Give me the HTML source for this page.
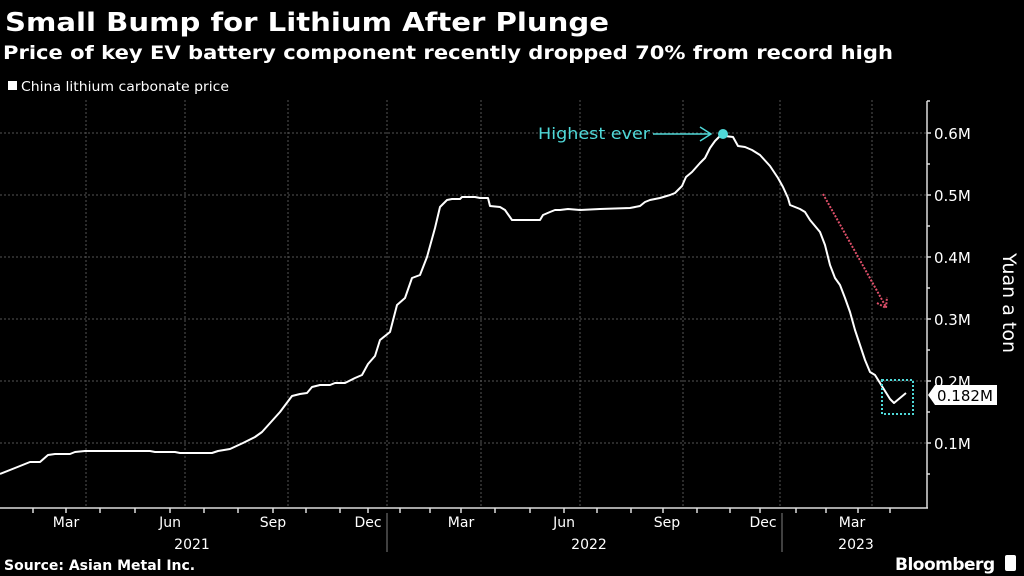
<!DOCTYPE html>
<html><head><meta charset="utf-8"><style>
html,body{margin:0;padding:0;background:#000;width:1024px;height:576px;overflow:hidden}
svg{display:block}
text{font-family:"DejaVu Sans","Liberation Sans",sans-serif}
</style></head><body>
<svg width="1024" height="576" viewBox="0 0 1024 576">
<rect width="1024" height="576" fill="#000"/>
<text x="5" y="31" fill="#fff" font-size="26" font-weight="bold" textLength="604" lengthAdjust="spacingAndGlyphs">Small Bump for Lithium After Plunge</text>
<text x="3" y="59" fill="#fff" font-size="19" font-weight="bold" textLength="890" lengthAdjust="spacingAndGlyphs">Price of key EV battery component recently dropped 70% from record high</text>
<rect x="8" y="81" width="9" height="9" fill="#fff"/>
<text x="21" y="91" fill="#fff" font-size="13" textLength="208" lengthAdjust="spacingAndGlyphs">China lithium carbonate price</text>
<g stroke="#555" stroke-width="1" stroke-dasharray="2,2">
<line x1="0" y1="133" x2="927" y2="133"/><line x1="0" y1="195" x2="927" y2="195"/>
<line x1="0" y1="257" x2="927" y2="257"/><line x1="0" y1="319" x2="927" y2="319"/>
<line x1="0" y1="381" x2="927" y2="381"/><line x1="0" y1="443" x2="927" y2="443"/>
<line x1="86" y1="100" x2="86" y2="508"/><line x1="185" y1="100" x2="185" y2="508"/>
<line x1="288" y1="100" x2="288" y2="508"/><line x1="387" y1="100" x2="387" y2="508"/>
<line x1="481" y1="100" x2="481" y2="508"/><line x1="580" y1="100" x2="580" y2="508"/>
<line x1="683" y1="100" x2="683" y2="508"/><line x1="780" y1="100" x2="780" y2="508"/>
<line x1="872" y1="100" x2="872" y2="508"/>
</g>
<g stroke="#ddd" stroke-width="1.5" fill="none">
<line x1="0" y1="508" x2="928" y2="508"/>
<line x1="927" y1="101" x2="927" y2="508"/>
<path d="M927 101h3M927 133h4M927 164h3M927 195h4M927 226h3M927 257h4M927 288h3M927 319h4M927 350h3M927 381h4M927 412h3M927 443h4M927 474h3"/>
<path d="M33 508v5M66 508v5M100 508v5M135 508v5M170 508v5M204 508v5M238 508v5M273 508v5M306 508v5M340 508v5M368 508v5M400 508v5M430 508v5M461 508v5M495 508v5M530 508v5M564 508v5M597 508v5M631 508v5M663 508v5M697 508v5M730 508v5M760 508v5M796 508v5M826 508v5M858 508v5M890 508v5"/>
<line x1="387" y1="513" x2="387" y2="552" stroke="#555"/>
<line x1="782" y1="513" x2="782" y2="552" stroke="#555"/>
</g>
<g fill="#fff" font-size="14" text-anchor="middle">
<text x="66" y="527">Mar</text><text x="170" y="527">Jun</text><text x="273" y="527">Sep</text><text x="368" y="527">Dec</text>
<text x="461" y="527">Mar</text><text x="564" y="527">Jun</text><text x="667" y="527">Sep</text><text x="763" y="527">Dec</text><text x="852" y="527">Mar</text>
<text x="192" y="549">2021</text><text x="589" y="549">2022</text><text x="856" y="549">2023</text>
</g>
<g fill="#fff" font-size="15">
<text x="934" y="139">0.6M</text><text x="934" y="201">0.5M</text><text x="934" y="263">0.4M</text>
<text x="934" y="325">0.3M</text><text x="934" y="387">0.2M</text><text x="934" y="449">0.1M</text>
</g>
<text transform="translate(1003,303) rotate(90)" fill="#fff" font-size="19" text-anchor="middle">Yuan a ton</text>
<path fill="none" stroke="#fff" stroke-width="2" stroke-linejoin="round" d="M0 474L15 468L30 462L40 462L48 455L55 454L70 454L75 452L85 451L150 451L155 452L175 452L180 453L212 453L218 451L230 449L243 443L255 437L262 432L280 412L292 396L300 394L307 393L312 387L320 385L330 385L335 383L345 383L355 378L362 375L368 364L375 356L380 340L390 332L397 305L405 298L412 278L420 275L427 257L435 228L440 207L447 200L452 199L460 199L462 197L475 197L480 198L488 198L490 206L500 207L505 210L512 220L540 220L543 215L550 212L555 210L560 210L568 209L580 210L600 209L630 208L640 206L645 202L650 200L660 198L670 195L675 193L678 190L682 186L686 177L692 172L700 163L705 158L710 148L715 141L720 136L725 136L733 137L738 146L745 147L752 150L760 155L770 166L778 178L783 187L788 198L790 205L795 207L800 209L805 212L810 220L815 226L820 232L825 245L830 265L835 278L840 285L845 298L850 312L855 330L860 345L865 360L870 372L875 375L880 383L885 391L890 399L894 403L900 398L906 393"/>
<circle cx="723" cy="134" r="5" fill="#4fd8d8"/>
<text x="538" y="139" fill="#4fd8d8" font-size="16" textLength="112" lengthAdjust="spacingAndGlyphs">Highest ever</text>
<g stroke="#4fd8d8" stroke-width="1.5" fill="none">
<line x1="653" y1="134" x2="711" y2="134"/><path d="M700 127L711 134L700 141"/>
<rect x="882" y="380" width="31" height="34" stroke-dasharray="2,2" stroke-width="2"/>
</g>
<g stroke="#e0506a" stroke-width="2" stroke-dasharray="2,1.5" fill="none">
<line x1="823" y1="194" x2="886" y2="307"/><path d="M877 303L886 308L887 297"/>
</g>
<path d="M928 395L935 385H997V405H935Z" fill="#fff"/>
<text x="937" y="401" fill="#000" font-size="15">0.182M</text>
<text x="4" y="570" fill="#fff" font-size="14" font-weight="bold">Source: Asian Metal Inc.</text>
<text x="895" y="570" fill="#fff" font-size="17" font-weight="bold" letter-spacing="-0.5">Bloomberg</text>
<rect x="1005" y="555" width="11" height="16" rx="2" fill="#fff"/>
</svg>
</body></html>
